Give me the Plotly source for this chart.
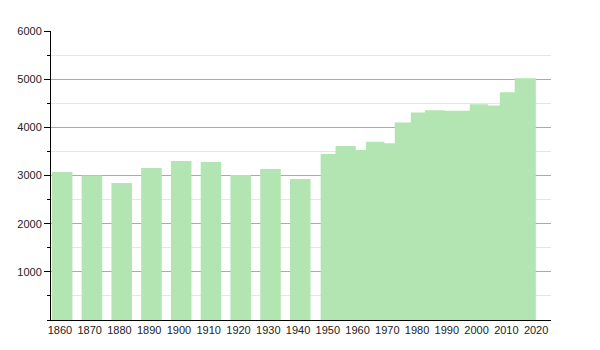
import plotly.graph_objects as go

# Early census years (separate bars)
early_years = [1860, 1870, 1880, 1890, 1900, 1910, 1920, 1930, 1940]
early_pop = [3071, 3002, 2842, 3154, 3299, 3278, 3008, 3133, 2925]

# Later period: contiguous steps (start year of each step, value)
late_starts = [1947.6, 1952.6, 1959.4, 1962.8, 1969.0, 1972.5, 1977.9,
               1982.6, 1989.3, 1997.7, 2003.8, 2007.8, 2012.8]
late_end = 2019.9
late_pop = [3444, 3610, 3527, 3700, 3670, 4101, 4309,
            4357, 4343, 4481, 4454, 4730, 5021]

x_ticks = list(range(1860, 2030, 10))
y_ticks = [1000, 2000, 3000, 4000, 5000, 6000]

BAR_COLOR = "#b3e5b2"

fig = go.Figure()
fig.add_trace(go.Bar(
    x=[y - 2.7 for y in early_years], y=early_pop, width=[6.9] * len(early_years),
    offset=0, marker=dict(color=BAR_COLOR, line=dict(width=0)),
    hoverinfo="x+y", showlegend=False,
))
# Contiguous step area for the later period (no seams between steps)
step_x = [late_starts[0]] + late_starts + [late_end, late_end]
step_y = [0] + late_pop + [late_pop[-1], 0]
fig.add_trace(go.Scatter(
    x=step_x, y=step_y, mode="lines", line=dict(shape="hv", width=0, color=BAR_COLOR),
    fill="toself", fillcolor=BAR_COLOR, showlegend=False, hoverinfo="skip",
))

fig.update_layout(
    width=600, height=350,
    margin=dict(l=51, r=49, t=31, b=30),
    paper_bgcolor="white", plot_bgcolor="white",
    barmode="overlay",
    font=dict(family="Liberation Sans, Arial, sans-serif", size=11, color="#222"),
    xaxis=dict(
        range=[1857, 2025], tickvals=x_ticks, ticktext=[str(t) for t in x_ticks],
        showgrid=False, zeroline=False, showline=True, linecolor="black", linewidth=1,
        ticks="", ticklen=0, fixedrange=True,
    ),
    yaxis=dict(
        range=[0, 6000], tickvals=y_ticks, ticktext=[str(t) for t in y_ticks],
        showgrid=True, gridcolor="#aaaaaa", gridwidth=1,
        zeroline=False, showline=True, linecolor="black", linewidth=1,
        ticks="outside", ticklen=6, tickcolor="black", tickwidth=1,
        minor=dict(dtick=500, tick0=0, showgrid=True, gridcolor="#e6e6e6",
                   ticks="outside", ticklen=3, tickcolor="black"),
        layer="below traces",
    ),
)

fig.write_html("out.html")
